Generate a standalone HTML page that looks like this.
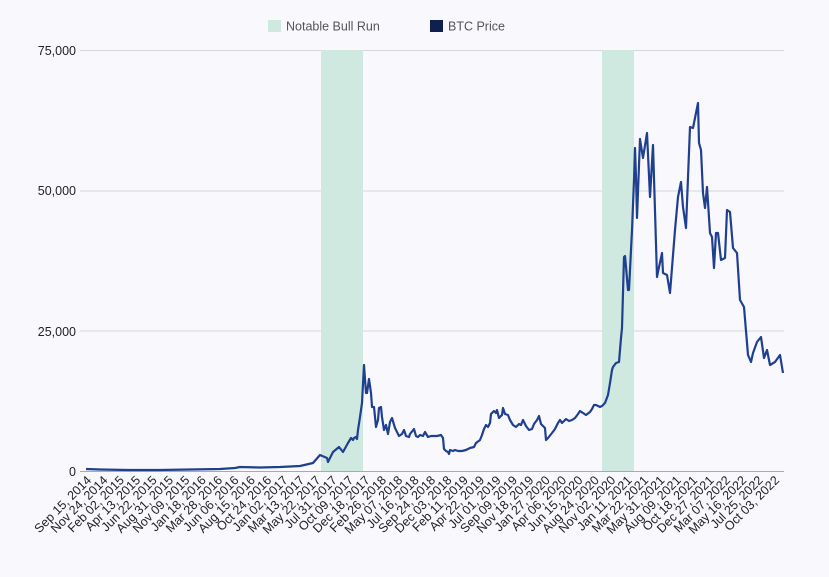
<!DOCTYPE html>
<html><head><style>
body{margin:0;background:#f9f9fd;}
svg{display:block;font-family:"Liberation Sans",sans-serif;}
</style></head><body>
<svg width="829" height="577" viewBox="0 0 829 577">
<rect width="829" height="577" fill="#f9f9fd"/>
<rect x="268" y="20" width="13" height="12" fill="#cfe8e0"/>
<text x="286" y="30.5" font-size="12.5" fill="#555">Notable Bull Run</text>
<rect x="430" y="20" width="13" height="12" fill="#0f1f4f"/>
<text x="448" y="30.5" font-size="12.5" fill="#555">BTC Price</text>
<g stroke="#d6d6dc" stroke-width="1">
<line x1="80" y1="50.5" x2="784" y2="50.5"/>
<line x1="80" y1="191" x2="784" y2="191"/>
<line x1="80" y1="331" x2="784" y2="331"/>
</g>
<rect x="321" y="50" width="42" height="421" fill="#cfe8e0"/>
<rect x="602" y="50" width="32" height="421" fill="#cfe8e0"/>
<line x1="80" y1="471.5" x2="784" y2="471.5" stroke="#aaa" stroke-width="1"/>
<g font-size="12.5" fill="#222" text-anchor="end">
<text x="76" y="55">75,000</text>
<text x="76" y="195">50,000</text>
<text x="76" y="336">25,000</text>
<text x="76" y="476">0</text>
</g>
<polyline fill="none" stroke="#1f3f8f" stroke-width="2.2" stroke-linejoin="round" points="86,469 100,469.5 130,470 160,470 190,469.5 220,469 235,468 240,467 260,467.5 280,467 300,466 313,463 320,455 327,458 328,462 333,452 339,447 343,452 348,443 351,438 353,440 354,438 356,437 357,439 358,430 360,417 362,403 364,365 366,393 367,393 369,379 371,393 372,407 374,407 376,427 378,420 379,408 381,407 382,417 384,430 386,425 388,434 390,422 392,418 395,428 399,436 402,434 404,430 406,436 409,437 410,434 414,429 416,436 418,437 420,435 423,436 425,432 428,437 431,436 434,436 437,436 441,435 443,438 444,449 446,451 448,452 449,454 450,450 453,451 455,450 458,451 462,451 466,450 470,448 474,447 476,443 480,440 482,435 484,429 486,425 488,427 490,423 491,414 494,411 496,413 497,410 499,418 502,415 503,408 505,414 508,415 510,420 513,425 516,427 519,424 521,425 523,420 526,426 529,430 532,429 534,424 537,420 539,416 541,424 545,428 546,440 548,438 552,433 555,429 558,423 560,420 562,423 566,419 569,421 572,420 575,418 578,414 580,411 583,413 586,415 590,412 592,409 594,405 596,405 600,407 602,406 605,403 608,395 610,383 612,370 613,367 616,363 619,362 621,338 622,328 624,257 625,256 626,267 628,290 629,290 630,270 632,230 634,180 635,148 636,177 637,218 640,139 643,158 647,133 650,197 653,145 657,277 658,272 662,253 663,273 667,275 670,293 675,230 678,197 681,182 683,207 686,228 690,127 693,128 698,103 699,143 701,150 703,193 705,208 707,187 710,233 712,237 714,268 716,233 718,233 721,260 725,258 727,210 730,212 733,248 737,253 740,300 744,307 748,355 751,362 753,353 757,342 761,337 764,358 767,350 770,365 775,362 780,355 783,373"/>
<g font-size="12.5" fill="#222" text-anchor="end">
<text transform="translate(92.0,481) rotate(-45)">Sep 15, 2014</text>
<text transform="translate(108.4,481) rotate(-45)">Nov 24, 2014</text>
<text transform="translate(124.8,481) rotate(-45)">Feb 02, 2015</text>
<text transform="translate(141.1,481) rotate(-45)">Apr 13, 2015</text>
<text transform="translate(157.5,481) rotate(-45)">Jun 22, 2015</text>
<text transform="translate(173.9,481) rotate(-45)">Aug 31, 2015</text>
<text transform="translate(190.3,481) rotate(-45)">Nov 09, 2015</text>
<text transform="translate(206.7,481) rotate(-45)">Jan 18, 2016</text>
<text transform="translate(223.0,481) rotate(-45)">Mar 28, 2016</text>
<text transform="translate(239.4,481) rotate(-45)">Jun 06, 2016</text>
<text transform="translate(255.8,481) rotate(-45)">Aug 15, 2016</text>
<text transform="translate(272.2,481) rotate(-45)">Oct 24, 2016</text>
<text transform="translate(288.6,481) rotate(-45)">Jan 02, 2017</text>
<text transform="translate(305.0,481) rotate(-45)">Mar 13, 2017</text>
<text transform="translate(321.3,481) rotate(-45)">May 22, 2017</text>
<text transform="translate(337.7,481) rotate(-45)">Jul 31, 2017</text>
<text transform="translate(354.1,481) rotate(-45)">Oct 09, 2017</text>
<text transform="translate(370.5,481) rotate(-45)">Dec 18, 2017</text>
<text transform="translate(386.9,481) rotate(-45)">Feb 26, 2018</text>
<text transform="translate(403.2,481) rotate(-45)">May 07, 2018</text>
<text transform="translate(419.6,481) rotate(-45)">Jul 16, 2018</text>
<text transform="translate(436.0,481) rotate(-45)">Sep 24, 2018</text>
<text transform="translate(452.4,481) rotate(-45)">Dec 03, 2018</text>
<text transform="translate(468.8,481) rotate(-45)">Feb 11, 2019</text>
<text transform="translate(485.1,481) rotate(-45)">Apr 22, 2019</text>
<text transform="translate(501.5,481) rotate(-45)">Jul 01, 2019</text>
<text transform="translate(517.9,481) rotate(-45)">Sep 09, 2019</text>
<text transform="translate(534.3,481) rotate(-45)">Nov 18, 2019</text>
<text transform="translate(550.7,481) rotate(-45)">Jan 27, 2020</text>
<text transform="translate(567.0,481) rotate(-45)">Apr 06, 2020</text>
<text transform="translate(583.4,481) rotate(-45)">Jun 15, 2020</text>
<text transform="translate(599.8,481) rotate(-45)">Aug 24, 2020</text>
<text transform="translate(616.2,481) rotate(-45)">Nov 02, 2020</text>
<text transform="translate(632.6,481) rotate(-45)">Jan 11, 2021</text>
<text transform="translate(649.0,481) rotate(-45)">Mar 22, 2021</text>
<text transform="translate(665.3,481) rotate(-45)">May 31, 2021</text>
<text transform="translate(681.7,481) rotate(-45)">Aug 09, 2021</text>
<text transform="translate(698.1,481) rotate(-45)">Oct 18, 2021</text>
<text transform="translate(714.5,481) rotate(-45)">Dec 27, 2021</text>
<text transform="translate(730.9,481) rotate(-45)">Mar 07, 2022</text>
<text transform="translate(747.2,481) rotate(-45)">May 16, 2022</text>
<text transform="translate(763.6,481) rotate(-45)">Jul 25, 2022</text>
<text transform="translate(780.0,481) rotate(-45)">Oct 03, 2022</text>
</g>
</svg>
</body></html>
